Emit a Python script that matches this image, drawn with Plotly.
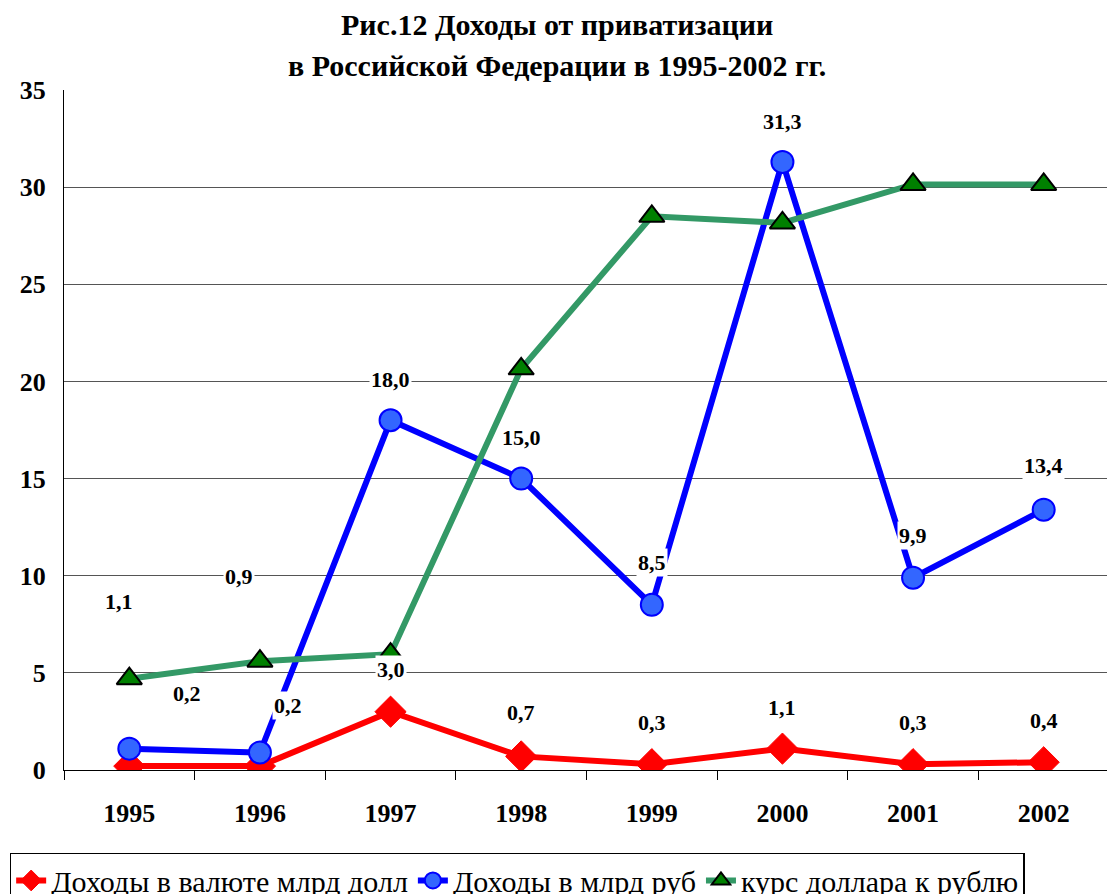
import plotly.graph_objects as go

# данные
years = ["1995", "1996", "1997", "1998", "1999", "2000", "2001", "2002"]
usd_income = [0.2, 0.2, 3.0, 0.7, 0.3, 1.1, 0.3, 0.4]
rub_income = [1.1, 0.9, 18.0, 15.0, 8.5, 31.3, 9.9, 13.4]
usd_rate = [4.7, 5.6, 5.96, 20.65, 28.5, 28.16, 30.14, 30.14]
y_ticks = [0, 5, 10, 15, 20, 25, 30, 35]
title_lines = ["Рис.12 Доходы от приватизации", "в Российской Федерации в 1995-2002 гг."]

# смещения подписей (как в исходной диаграмме)
usd_shift = [(58, 73), (28, 61), (0, 42), (0, 44), (0, 42), (0, 41), (0, 42), (0, 42)]
rub_shift = [(-10, 147), (-21, 176), (0, 41), (0, 41), (0, 42), (0, 40), (0, 42), (0, 44)]

SERIF = "Liberation Serif"

fig = go.Figure()

fig.add_trace(go.Scatter(
    x=years, y=usd_income, mode="lines+markers",
    name="Доходы в валюте млрд долл",
    line=dict(color="#FF0000", width=6),
    marker=dict(symbol="diamond", size=24, color="#FF0000",
                line=dict(color="#FF0000", width=1))
))

fig.add_trace(go.Scatter(
    x=years, y=rub_income, mode="lines+markers",
    name="Доходы в млрд руб",
    line=dict(color="#0000FF", width=6),
    marker=dict(symbol="circle", size=22, color="#3366FF",
                line=dict(color="#0000FF", width=2))
))

fig.add_trace(go.Scatter(
    x=years, y=usd_rate, mode="lines+markers",
    name="курс доллара к рублю",
    line=dict(color="#339966", width=6),
    marker=dict(symbol="triangle-up", size=22, color="#008000",
                line=dict(color="#000000", width=2))
))


def fmt(v):
    return f"{v:.1f}".replace(".", ",")


annotations = []
# подписи данных
for vals, shifts in [(usd_income, usd_shift), (rub_income, rub_shift)]:
    for i, (v, (dx, dy)) in enumerate(zip(vals, shifts)):
        annotations.append(dict(
            x=i, y=v, xref="x", yref="y", text="<b>" + fmt(v) + "</b>",
            showarrow=False, xshift=dx, yshift=dy, bgcolor="white",
            font=dict(family=SERIF, size=22, color="black")
        ))

# заголовок в две строки
for line, ypos in zip(title_lines, [1.124, 1.063]):
    annotations.append(dict(
        x=0.472, y=ypos, xref="paper", yref="paper", text="<b>" + line + "</b>",
        showarrow=False, font=dict(family=SERIF, size=30, color="black")
    ))

fig.update_layout(
    width=1107, height=886,
    annotations=annotations,
    margin=dict(l=56, r=6, t=82, b=124, autoexpand=False),
    paper_bgcolor="white", plot_bgcolor="white",
    showlegend=True,
    legend=dict(
        orientation="h", x=-0.052, xanchor="left", y=-0.122, yanchor="top",
        bordercolor="black", borderwidth=1.5, bgcolor="white",
        font=dict(family=SERIF, size=30, color="black"),
        itemwidth=30, tracegroupgap=0
    ),
    xaxis=dict(
        type="category", showgrid=False, showline=True, linecolor="black",
        linewidth=1, ticks="outside", tickson="boundaries", ticklen=9,
        tickcolor="black", range=[-0.5, 7.5], automargin=False,
        ticklabelstandoff=20,
        tickfont=dict(family=SERIF, size=26, color="black"),
        ticktext=["<b>" + y + "</b>" for y in years], tickvals=years
    ),
    yaxis=dict(
        range=[0, 35], tickvals=y_ticks, showgrid=True, gridcolor="#555555",
        gridwidth=1, showline=True, linecolor="black", linewidth=1,
        zeroline=False, ticks="", ticklabelstandoff=12, automargin=False,
        ticktext=["<b>" + str(t) + "</b>" for t in y_ticks],
        tickfont=dict(family=SERIF, size=26, color="black")
    )
)

fig.write_html("out.html")
